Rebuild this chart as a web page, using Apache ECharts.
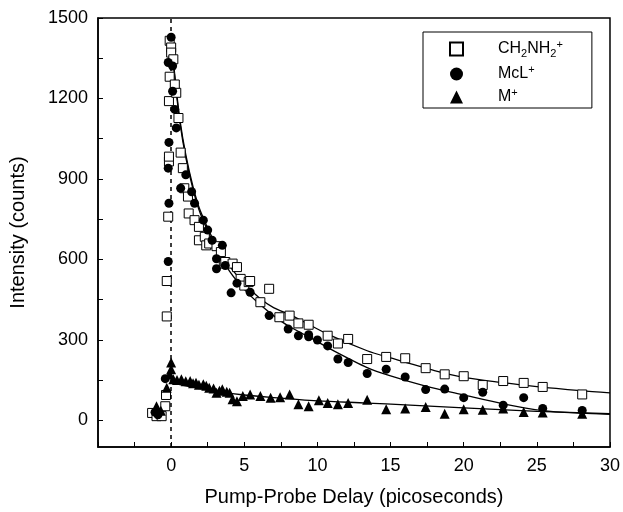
<!DOCTYPE html>
<html>
<head>
<meta charset="utf-8">
<script src="https://cdn.jsdelivr.net/npm/echarts@6/dist/echarts.min.js"></script>
<style>
  html, body { margin: 0; padding: 0; background: #fff; }
  #main { width: 623px; height: 512px; }
</style>
</head>
<body>
<div id="main"></div>
<script>
// measured points, [delay ps, counts]
var ch2Points = [
  [-1.3,27],[-1.0,15],[-0.65,15],[-0.4,52],[-0.35,94],[-0.3,387],[-0.3,519],[-0.2,759],
  [-0.15,965],[-0.15,983],[-0.15,1190],[-0.1,1281],[-0.1,1415],[0,1390],[0,1371],[0.15,1346],
  [0.25,1252],[0.35,1221],[0.5,1127],[0.65,998],[0.8,940],[0.9,865],[1.15,834],[1.2,771],
  [1.6,746],[1.9,721],[1.9,671],[2.3,684],[2.4,652],[2.6,659],[3.1,649],[3.4,627],[3.6,584],
  [3.7,590],[4.2,584],[4.5,571],[4.75,527],[5.0,502],[5.3,515],[5.4,519],[6.1,440],[6.7,490],
  [7.4,384],[8.1,390],[8.7,361],[9.4,356],[10.7,315],[11.4,286],[12.1,303],[13.4,228],
  [14.7,236],[16.0,231],[17.4,194],[18.7,171],[20.0,164],[21.3,131],[22.7,146],[24.1,139],
  [25.4,124],[28.1,96]
];
var mclPoints = [
  [-1.1,30],[-0.9,20],[-0.4,155],[-0.2,592],[-0.15,809],[-0.2,940],[-0.15,1036],[-0.2,1334],
  [0,1428],[0.1,1321],[0.1,1227],[0.25,1159],[0.35,1090],[0.65,865],[1.0,915],[1.4,852],
  [1.6,809],[2.2,746],[2.5,709],[2.8,671],[3.1,602],[3.1,565],[3.5,652],[3.7,577],[4.1,475],
  [4.5,511],[5.4,477],[6.7,390],[8.0,340],[8.7,315],[9.4,311],[9.4,319],[10.0,299],[10.7,277],
  [11.4,228],[12.1,215],[13.4,174],[14.7,190],[16.0,161],[17.4,114],[18.7,116],[20.0,84],
  [21.3,104],[22.7,56],[24.1,84],[25.4,44],[28.1,36]
];
var mPoints = [
  [-1.0,52],[-0.7,35],[-0.3,121],[-0.1,171],[0,190],[0,215],[0.15,153],[0.4,150],[0.7,153],
  [1.0,145],[1.3,146],[1.5,138],[1.7,140],[1.9,132],[2.2,134],[2.4,128],[2.6,121],[2.9,118],
  [3.1,102],[3.3,110],[3.5,115],[3.8,106],[4.0,102],[4.2,78],[4.5,71],[4.9,90],[5.4,96],
  [6.1,90],[6.8,84],[7.45,86],[8.1,96],[8.7,59],[9.4,52],[10.1,74],[10.7,64],[11.4,59],
  [12.1,64],[13.4,76],[14.7,41],[16.0,44],[17.4,49],[18.7,24],[20.0,41],[21.3,39],[22.7,44],
  [24.1,31],[25.4,29],[28.1,24]
];

// fitted curves
var ch2Fit = [
  [0,1420],[0.3,1260],[0.6,1120],[1,990],[1.5,870],[2,780],[3,660],[4,575],[5,510],[6,458],
  [7,420],[8.2,392],[10.7,321],[13.4,259],[15,232],[18,185],[20,160],[22.7,140],[25,125],
  [28,110],[30,102]
];
var mclFit = [
  [0,1420],[0.3,1250],[0.6,1110],[1,980],[1.5,860],[2,770],[3,650],[4,555],[5,488],[6,435],
  [7,390],[8,352],[9.6,305],[11,262],[13.4,196],[15,165],[17.4,127],[20,94],[22.7,61],
  [25.4,36],[28,26],[30,22]
];
var mFit = [
  [0,140],[1,128],[2,118],[3.5,104],[5,94],[7,84],[10,72],[13.4,64],[16,57],[20,46],[25,33],[30,24]
];

var yLabelValues = [0, 300, 600, 900, 1200, 1500];
var yTickValues = [0, 150, 300, 450, 600, 750, 900, 1050, 1200, 1350, 1500];

var seriesNames = ['CH2NH2+', 'McL+', 'M+'];

var myChart = echarts.init(document.getElementById('main'));
var font = 'Liberation Sans, Arial, Helvetica, sans-serif';

var legendLabels = {
  'CH2NH2+': '{n|CH}{sub|2}{n|NH}{sub|2}{sup|+}',
  'McL+': '{n|McL}{sup|+}',
  'M+': '{n|M}{sup|+}'
};

var fitLine = function (data) {
  return {
    type: 'line',
    data: data,
    showSymbol: false,
    smooth: 0.3,
    silent: true,
    lineStyle: { color: '#000', width: 1.3 },
    z: 1
  };
};

myChart.setOption({
  animation: false,
  backgroundColor: '#fff',
  textStyle: { fontFamily: font, color: '#000' },
  grid: {
    left: 93, top: 18, right: 12, bottom: 65,
    show: true, borderColor: '#000', borderWidth: 1.5
  },
  legend: {
    data: seriesNames,
    orient: 'vertical',
    left: 423, top: 32,
    padding: [7, 29, 3, 26],
    itemWidth: 13, itemHeight: 13,
    itemGap: 5,
    backgroundColor: '#fff',
    borderColor: '#000', borderWidth: 1,
    formatter: function (name) { return legendLabels[name]; },
    textStyle: {
      padding: [0, 0, 0, 30],
      rich: {
        n: { fontSize: 16, fontFamily: font, color: '#000', lineHeight: 20 },
        sub: { fontSize: 11, fontFamily: font, color: '#000', lineHeight: 10, verticalAlign: 'bottom' },
        sup: { fontSize: 11, fontFamily: font, color: '#000', lineHeight: 10, verticalAlign: 'top' }
      }
    }
  },
  xAxis: {
    type: 'value',
    min: -5, max: 30, interval: 5,
    name: 'Pump-Probe Delay (picoseconds)',
    nameLocation: 'middle',
    nameGap: 40,
    nameTextStyle: { fontSize: 20, fontFamily: font, color: '#000' },
    axisLine: { onZero: false, lineStyle: { color: '#000', width: 1.5 } },
    axisTick: { inside: true, length: 5, lineStyle: { color: '#000' } },
    minorTick: { show: true, splitNumber: 2, length: 5, lineStyle: { color: '#000' } },
    splitLine: { show: false },
    axisLabel: {
      showMinLabel: false,
      margin: 10,
      fontSize: 18, color: '#000', fontFamily: font
    }
  },
  yAxis: {
    type: 'value',
    min: -100, max: 1500,
    name: 'Intensity (counts)',
    nameLocation: 'middle',
    nameGap: 70,
    nameTextStyle: { fontSize: 20, fontFamily: font, color: '#000' },
    axisLine: { onZero: false, lineStyle: { color: '#000', width: 1.5 } },
    axisTick: { inside: true, length: 5, customValues: yTickValues, lineStyle: { color: '#000' } },
    splitLine: { show: false },
    axisLabel: {
      customValues: yLabelValues,
      formatter: function (v) { return String(v); },
      margin: 10,
      fontSize: 18, color: '#000', fontFamily: font
    }
  },
  series: [
    {
      name: seriesNames[0],
      type: 'scatter',
      data: ch2Points,
      symbol: 'rect',
      symbolSize: 9,
      itemStyle: { color: '#fff', borderColor: '#000', borderWidth: 1, opacity: 1 },
      z: 3,
      markLine: {
        silent: true,
        symbol: 'none',
        label: { show: false },
        lineStyle: { color: '#000', type: [4, 4], width: 1.5 },
        data: [{ xAxis: 0 }],
        z: 2
      }
    },
    {
      name: seriesNames[1],
      type: 'scatter',
      data: mclPoints,
      symbol: 'circle',
      symbolSize: 9,
      itemStyle: { color: '#000', opacity: 1 },
      z: 4
    },
    {
      name: seriesNames[2],
      type: 'scatter',
      data: mPoints,
      symbol: 'triangle',
      symbolSize: 10,
      itemStyle: { color: '#000', opacity: 1 },
      z: 4
    },
    fitLine(ch2Fit),
    fitLine(mclFit),
    fitLine(mFit)
  ]
});
</script>
</body>
</html>
